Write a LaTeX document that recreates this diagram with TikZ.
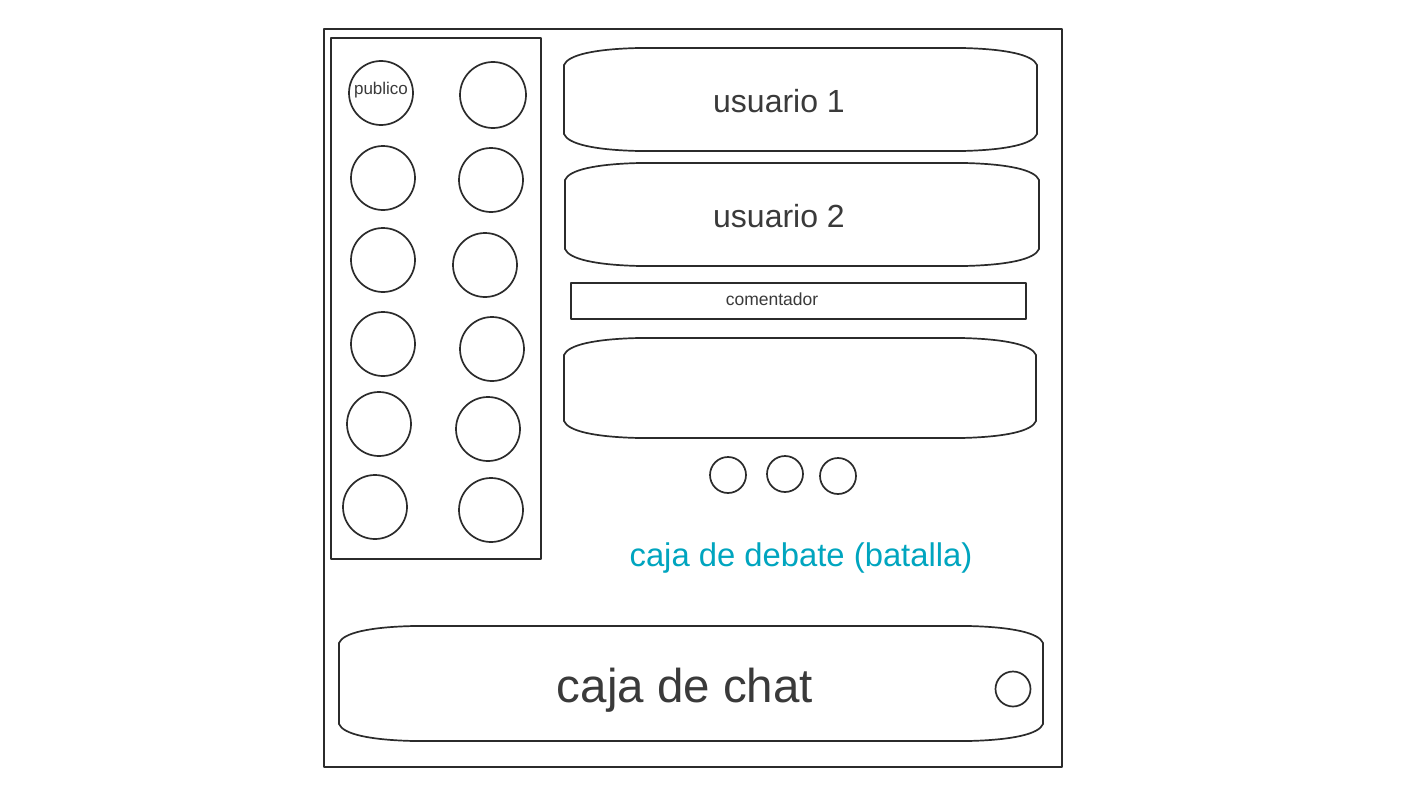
\documentclass[tikz,border=0pt]{standalone}
\usepackage{fontspec}
\setmainfont{Liberation Sans}
\definecolor{ink}{HTML}{2B2B2B}
\definecolor{txt}{HTML}{3A3A3A}
\definecolor{teal}{HTML}{00A5BF}
\newcommand\skbox[5]{% name, x1,y1,x2,y2
  \draw[boxline] (#2,#3+17) .. controls (#2+4,#3+7) and (#2+30,#3+1) .. (#2+75,#3)
    -- (#4-75,#3) .. controls (#4-30,#3+1) and (#4-4,#3+7) .. (#4,#3+17)
    -- (#4,#5-17) .. controls (#4-4,#5-7) and (#4-30,#5-1) .. (#4-75,#5)
    -- (#2+75,#5) .. controls (#2+30,#5-1) and (#2+4,#5-7) .. (#2,#5-17) -- cycle;
  \coordinate (#1) at ({(#2+#4)/2},{(#3+#5)/2});}
\begin{document}
\begin{tikzpicture}[x=1pt,y=-1pt,
  boxline/.style={draw=ink,line width=1.7pt,line join=round},
  seat/.style={circle,draw=ink,line width=1.7pt,inner sep=0pt,minimum size=#1},
  seat/.default=64pt,
  lbl/.style={text=txt,inner sep=0pt,anchor=center}]
\useasboundingbox (0,0) rectangle (1422,800);
\fill[white] (0,0) rectangle (1422,800);
% outer frame
\draw[boxline] (324,29) rectangle (1062,767);
% audience panel
\draw[boxline] (331,38) rectangle (541,559);
\node[seat] (p1) at (381,93) {};
\node[lbl,font=\fontsize{17}{17}\selectfont] (pub) at (381,90) {publico};
\node[seat=66pt] (p2) at (493,95) {};
\node[seat] (p3) at (383,178) {};
\node[seat] (p4) at (491,180) {};
\node[seat] (p5) at (383,260) {};
\node[seat] (p6) at (485,265) {};
\node[seat] (p7) at (383,344) {};
\node[seat] (p8) at (492,349) {};
\node[seat] (p9) at (379,424) {};
\node[seat] (p10) at (488,429) {};
\node[seat] (p11) at (375,507) {};
\node[seat] (p12) at (491,510) {};
% user boxes
\skbox{u1}{564}{48}{1037}{151}
\node[lbl,font=\fontsize{32}{32}\selectfont] (u1t) at (779,101) {usuario 1};
\skbox{u2}{565}{163}{1039}{266}
\node[lbl,font=\fontsize{32}{32}\selectfont] (u2t) at (779,216) {usuario 2};
% commentator
\draw[boxline] (571,283) rectangle (1026,319);
\node[lbl,font=\fontsize{17.5}{17.5}\selectfont] (com) at (772,299) {comentador};
% empty box
\skbox{u3}{564}{338}{1036}{438}
% small circles
\node[seat=36pt] (d1) at (728,475) {};
\node[seat=36pt] (d2) at (785,474) {};
\node[seat=36pt] (d3) at (838,476) {};
% debate label
\node[lbl,text=teal,font=\fontsize{32.8}{32.8}\selectfont] (deb) at (801,558) {caja de debate (batalla)};
% chat box
\skbox{chat}{339}{626}{1043}{741}
\node[lbl,font=\fontsize{47.5}{47.5}\selectfont] (chatt) at (685,690) {caja de chat};
\node[seat=35pt] (send) at (1013,689) {};
\end{tikzpicture}
\end{document}
